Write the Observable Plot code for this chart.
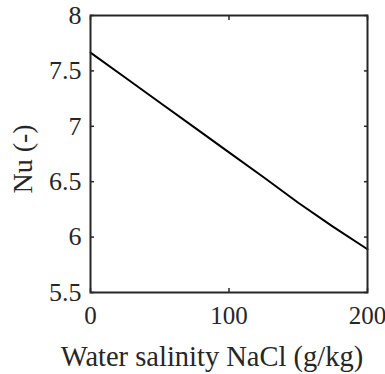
<!DOCTYPE html>
<html>
<head>
<meta charset="utf-8">
<script src="https://cdn.jsdelivr.net/npm/d3@7"></script>
<script src="https://cdn.jsdelivr.net/npm/@observablehq/plot@0.6"></script>
<style>
  html, body { margin: 0; padding: 0; background: #fff; }
  #chart svg { display: block; }
</style>
</head>
<body>
<div id="chart"></div>
<script>
const salinity = [0, 25, 50, 75, 100, 125, 150, 175, 200];
const nu = [7.665, 7.44, 7.215, 6.99, 6.765, 6.54, 6.31, 6.095, 5.89];
const xTicks = [0, 100, 200];
const yTicks = [5.5, 6, 6.5, 7, 7.5, 8];
const xLabel = "Water salinity NaCl (g/kg)";
const yLabel = "Nu (-)";

const data = salinity.map((s, i) => ({s, nu: nu[i]}));
const ink = "#262626";
const font = "Liberation Serif, Times New Roman, serif";

const chart = Plot.plot({
  width: 385,
  height: 374,
  marginLeft: 90,
  marginRight: 18,
  marginTop: 15,
  marginBottom: 82,
  style: {fontFamily: font, color: ink, background: "#fff"},
  x: {domain: [0, 200]},
  y: {domain: [5.5, 8]},
  marks: [
    Plot.line(data, {x: "s", y: "nu", stroke: "#000", strokeWidth: 2}),
    // inward ticks on all four sides
    Plot.axisY(yTicks, {anchor: "left", tickSize: 4, dx: 4, text: null, label: null, stroke: ink, strokeWidth: 1.5}),
    Plot.axisY(yTicks, {anchor: "right", tickSize: 4, dx: -4, text: null, label: null, stroke: ink, strokeWidth: 1.5}),
    Plot.axisX(xTicks, {anchor: "bottom", tickSize: 4, dy: -4, text: null, label: null, stroke: ink, strokeWidth: 1.5}),
    Plot.axisX(xTicks, {anchor: "top", tickSize: 4, dy: 4, text: null, label: null, stroke: ink, strokeWidth: 1.5}),
    // tick labels
    Plot.text(yTicks, {y: d => d, text: d => String(d), frameAnchor: "left", dx: -9, textAnchor: "end",
      lineAnchor: "middle", fontSize: 26, fontFamily: font, fill: ink}),
    Plot.text(xTicks, {x: d => d, text: d => String(d), frameAnchor: "bottom", dy: 14, textAnchor: "middle",
      lineAnchor: "top", fontSize: 25, fontFamily: font, fill: ink}),
    // axis titles
    Plot.text([xLabel], {frameAnchor: "bottom", dy: 64, dx: -17, textAnchor: "middle", lineAnchor: "middle",
      fontSize: 28.5, fontFamily: font, fill: ink}),
    Plot.text([yLabel], {frameAnchor: "left", rotate: -90, dx: -67, dy: 5, textAnchor: "middle", lineAnchor: "middle",
      fontSize: 28, fontFamily: font, fill: ink}),
    Plot.frame({stroke: ink, strokeWidth: 2})
  ]
});
document.getElementById("chart").append(chart);
</script>
</body>
</html>
